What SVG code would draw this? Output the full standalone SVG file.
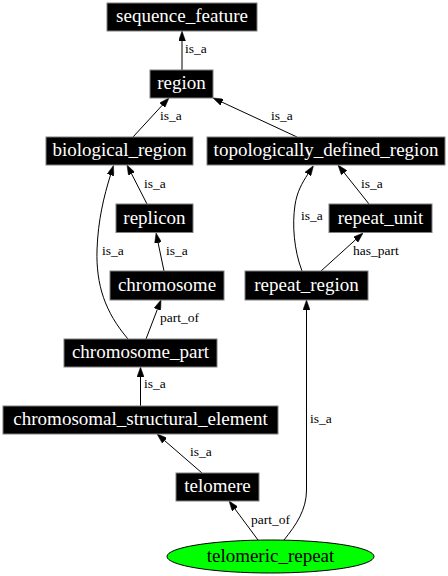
<svg xmlns="http://www.w3.org/2000/svg" width="448" height="576" viewBox="0 0 448 576">
<style>
.box{fill:#000;stroke:#7f7f7f;stroke-width:1}
.nt{font-family:"Liberation Serif","Times New Roman",serif;font-size:19px;fill:#fff;text-anchor:middle}
.et{font-family:"Liberation Serif","Times New Roman",serif;font-size:13.5px;fill:#000}
.e{fill:none;stroke:#000;stroke-width:1;marker-end:url(#ah)}
</style>
<defs>
<marker id="ah" viewBox="0 0 10 7" refX="0" refY="3.5" markerWidth="10" markerHeight="7" markerUnits="userSpaceOnUse" orient="auto">
<path d="M0,0 L10,3.5 L0,7 z" fill="#000" stroke="#000" stroke-width="0.5"/>
</marker>
</defs>
<rect width="448" height="576" fill="#fff"/>
<g id="edges">
<path class="e" d="M182,70 L182,41"/>
<text class="et" x="185" y="53">is_a</text>
<path class="e" d="M133,137 L162.2,105.3"/>
<text class="et" x="160" y="120">is_a</text>
<path class="e" d="M297,137 L222.1,102.2"/>
<text class="et" x="271" y="120">is_a</text>
<path class="e" d="M147,204 L131.6,173.9"/>
<text class="et" x="144" y="188">is_a</text>
<path class="e" d="M128,339 C105,312 96,285 97,250 C98,220 104,196 110.5,175"/>
<text class="et" x="102" y="255">is_a</text>
<path class="e" d="M164,271 L158.1,242.8"/>
<text class="et" x="166" y="255">is_a</text>
<path class="e" d="M146,339 L157.4,309.3"/>
<text class="et" x="160" y="322">part_of</text>
<path class="e" d="M140.5,406 L140.5,377"/>
<text class="et" x="144" y="388">is_a</text>
<path class="e" d="M202,473 L164.6,440.6"/>
<text class="et" x="190" y="456">is_a</text>
<path class="e" d="M258,540 L235,509"/>
<text class="et" x="251" y="524">part_of</text>
<path class="e" d="M284,540 C296,525 306.5,510 306.5,490 L306.5,310"/>
<text class="et" x="310" y="423">is_a</text>
<path class="e" d="M302,271 C294,250 292,225 295,205 C297,192 302,183 307.9,174.1"/>
<text class="et" x="301" y="220">is_a</text>
<path class="e" d="M369,204 L344.2,172.8"/>
<text class="et" x="361" y="188">is_a</text>
<path class="e" d="M321,271 L355.6,239.7"/>
<text class="et" x="353" y="255">has_part</text>
</g>
<g id="sequence_feature"><rect class="box" x="107" y="3" width="150" height="28"/><text class="nt" x="182" y="22">sequence_feature</text></g>
<g id="region"><rect class="box" x="150" y="70" width="63" height="28"/><text class="nt" x="181.5" y="89">region</text></g>
<g id="biological_region"><rect class="box" x="46" y="137" width="147" height="28"/><text class="nt" x="119.5" y="156">biological_region</text></g>
<g id="topologically_defined_region"><rect class="box" x="207" y="137" width="238" height="28"/><text class="nt" x="326" y="156">topologically_defined_region</text></g>
<g id="replicon"><rect class="box" x="116" y="204" width="77" height="28.5"/><text class="nt" x="154.5" y="223.5">replicon</text></g>
<g id="repeat_unit"><rect class="box" x="329" y="204" width="103" height="28.5"/><text class="nt" x="380.5" y="223.5">repeat_unit</text></g>
<g id="chromosome"><rect class="box" x="110" y="271" width="114" height="29"/><text class="nt" x="167" y="290.5">chromosome</text></g>
<g id="repeat_region"><rect class="box" x="245" y="271" width="123" height="29"/><text class="nt" x="306.5" y="290.5">repeat_region</text></g>
<g id="chromosome_part"><rect class="box" x="64" y="339" width="153" height="28"/><text class="nt" x="140.5" y="358">chromosome_part</text></g>
<g id="chromosomal_structural_element"><rect class="box" x="3" y="406" width="275" height="28"/><text class="nt" x="140.5" y="425">chromosomal_structural_element</text></g>
<g id="telomere"><rect class="box" x="176" y="473" width="83" height="28"/><text class="nt" x="217.5" y="492">telomere</text></g>
<g id="telomeric_repeat"><ellipse cx="270.5" cy="556.5" rx="103.5" ry="16.5" fill="#00ff00" stroke="#000" stroke-width="1"/><text class="nt" x="270.5" y="562" style="fill:#000">telomeric_repeat</text></g>
</svg>
